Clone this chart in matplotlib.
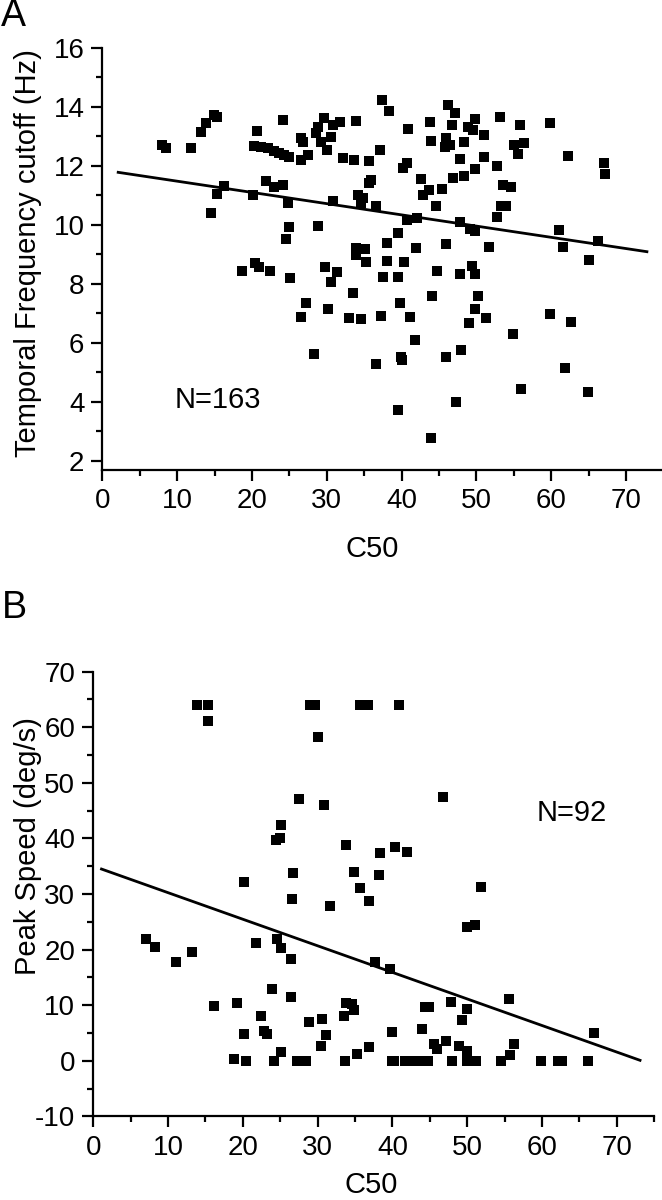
import matplotlib
matplotlib.use("Agg")
import matplotlib.pyplot as plt
from matplotlib.ticker import MultipleLocator

plt.rcParams['font.family'] = ['Liberation Sans', 'DejaVu Sans']
plt.rcParams['axes.unicode_minus'] = False

# panel A: C50 vs temporal frequency cutoff (Hz)
tf_c50 = [8.0, 8.5, 11.9, 13.2, 13.9, 14.9, 15.3, 24.1, 20.7, 20.3, 21.2, 22.1, 23.0, 23.6,
          24.3, 25.0, 26.5, 27.5, 26.5, 26.8, 28.6, 28.8, 29.6, 29.2, 30.5, 30.0, 30.8, 31.7,
          16.2, 15.3, 14.5, 20.1, 21.8, 22.9, 24.2, 24.8, 25.0, 24.5, 28.8, 30.8,
          18.7, 20.4, 20.9, 22.4, 25.1, 29.8, 31.3, 30.5, 27.2, 26.5, 30.1, 33.5, 33.0, 34.6, 28.3,
          37.4, 38.3, 33.9, 40.9, 43.8, 46.2, 47.2, 46.7, 48.9, 49.8, 49.6, 51.0, 53.2, 55.8, 59.8,
          43.9, 46.0, 45.8, 46.5, 48.4, 55.0, 56.3, 55.6, 62.2, 67.1, 67.2, 37.1, 32.2, 33.6, 35.6,
          40.7, 40.2, 47.8, 51.0, 49.8, 52.8, 48.3, 46.9, 45.4, 42.6, 43.6, 42.9, 35.9, 35.7, 53.6, 54.6,
          34.2, 34.8, 34.6, 36.6, 44.6, 53.3, 53.9, 52.7, 40.7, 42.0, 47.8, 49.2, 49.8, 61.1, 66.2, 39.5, 38.1,
          33.9, 35.1, 33.9, 35.3, 38.1, 40.3, 41.9, 46.0, 51.7, 61.6, 65.0, 37.5, 39.5, 44.7, 47.8, 49.4, 49.8,
          39.8, 44.1, 50.2, 49.8, 51.3, 49.0, 37.2, 41.1, 41.8, 36.6, 39.9, 40.1, 45.9, 47.9, 54.9, 59.8,
          62.7, 61.9, 55.9, 64.9, 39.5, 47.3, 43.9]
tf_cutoff = [12.69, 12.58, 12.58, 13.13, 13.43, 13.71, 13.63, 13.54, 13.18, 12.67, 12.64, 12.58, 12.5, 12.43,
             12.36, 12.28, 12.19, 12.36, 12.92, 12.79, 13.09, 13.32, 13.6, 12.81, 12.98, 12.53, 13.37, 13.48,
             11.32, 11.02, 10.38, 11.0, 11.48, 11.26, 11.34, 10.72, 9.93, 9.51, 9.96, 10.81,
             8.43, 8.7, 8.57, 8.43, 8.18, 8.57, 8.4, 8.06, 7.33, 6.85, 7.14, 7.69, 6.84, 6.79, 5.61,
             14.22, 13.85, 13.52, 13.24, 13.48, 14.05, 13.77, 13.37, 13.32, 13.57, 13.2, 13.03, 13.65, 13.37, 13.43,
             12.83, 12.92, 12.64, 12.69, 12.79, 12.69, 12.75, 12.39, 12.33, 12.1, 11.71, 12.53, 12.26, 12.19, 12.16,
             12.07, 11.9, 12.22, 12.28, 11.87, 11.98, 11.65, 11.59, 11.2, 11.53, 11.17, 11.0, 11.51, 11.4, 11.34, 11.28,
             11.0, 10.89, 10.72, 10.64, 10.64, 10.64, 10.63, 10.24, 10.15, 10.21, 10.1, 9.84, 9.79, 9.81, 9.45, 9.7, 9.38,
             9.19, 9.16, 8.97, 8.74, 8.77, 8.72, 9.19, 9.33, 9.25, 9.23, 8.8, 8.23, 8.23, 8.42, 8.34, 8.59, 8.34,
             7.33, 7.58, 7.59, 7.14, 6.82, 6.68, 6.9, 6.87, 6.08, 5.29, 5.52, 5.41, 5.5, 5.75, 6.28, 6.97,
             6.7, 5.15, 4.41, 4.31, 3.71, 4.0, 2.75]
tf_fit_x = [2.1, 72.8]
tf_fit_y = [11.77, 9.08]

# panel B: C50 vs peak speed (deg/s)
ps_c50 = [13.9, 15.4, 29.0, 29.6, 35.6, 36.7, 40.9,
          15.3, 30.1, 27.5, 30.8, 25.1, 24.4, 25.0, 33.8, 26.7, 34.8, 20.2, 35.7,
          46.7, 38.3, 40.3, 41.9, 38.2, 51.8,
          26.6, 31.7, 36.8, 49.9, 51.0, 7.1, 8.2, 11.0, 13.2, 21.8, 24.5, 25.1, 26.5,
          23.9, 26.5, 16.2, 19.2, 22.4, 20.1, 22.8, 23.2, 25.1, 18.8, 20.4, 24.2, 27.2, 28.5,
          28.8, 30.6, 31.1, 30.4, 33.7, 35.2, 36.8, 33.8, 34.6, 34.8, 33.5,
          37.6, 39.7, 40.0, 39.9, 40.2, 41.7, 43.0, 43.9, 44.8, 44.0, 44.3, 44.9, 47.8, 49.9, 49.3,
          45.5, 45.9, 47.2, 48.9, 49.9, 47.9, 49.9, 51.2, 54.5, 55.7, 56.3, 55.6,
          59.9, 62.1, 62.7, 66.2, 67.0]
ps_speed = [64.0, 64.0, 64.0, 64.0, 64.0, 64.0, 64.0,
            61.1, 58.3, 47.1, 46.0, 42.5, 39.7, 40.1, 38.8, 33.7, 33.9, 32.1, 31.0,
            47.4, 37.4, 38.5, 37.5, 33.4, 31.3,
            29.2, 27.9, 28.8, 24.0, 24.4, 21.9, 20.4, 17.7, 19.5, 21.2, 21.9, 20.3, 18.3,
            12.9, 11.4, 9.9, 10.4, 8.0, 4.8, 5.4, 4.8, 1.6, 0.3, 0.0, 0.0, 0.0, 0.0,
            7.0, 7.5, 4.7, 2.7, 0.0, 1.2, 2.5, 10.4, 10.2, 9.2, 8.0,
            17.8, 16.6, 5.2, 0.0, 0.0, 0.0, 0.0, 0.0, 0.0, 5.7, 9.7, 9.7, 10.5, 9.3, 7.3,
            3.1, 2.2, 3.6, 2.7, 1.8, 0.0, 0.0, 0.0, 0.0, 1.0, 3.1, 11.1,
            0.0, 0.0, 0.0, 0.0, 5.1]
ps_fit_x = [1.1, 73.1]
ps_fit_y = [34.5, 0.1]

fig = plt.figure(figsize=(6.62, 12), dpi=100)
axA = fig.add_axes([0.1548, 0.6083, 0.845, 0.3521])
axB = fig.add_axes([0.1409, 0.0696, 0.8474, 0.3707])


def style(ax):
    for s in ['top', 'right']:
        ax.spines[s].set_visible(False)
    for s in ['left', 'bottom']:
        ax.spines[s].set_linewidth(1.6)
    ax.tick_params(which='major', length=8, width=1.6, labelsize=20, pad=5)
    ax.tick_params(which='minor', length=4.5, width=1.6)
    ax.xaxis.set_major_locator(MultipleLocator(10))
    ax.xaxis.set_minor_locator(MultipleLocator(5))


axA.scatter(tf_c50, tf_cutoff, marker='s', s=62, color='black', linewidths=0, zorder=3)
axA.plot(tf_fit_x, tf_fit_y, color='black', lw=2)
axA.set_xlim(0, 74.8)
axA.set_ylim(1.68, 16)
style(axA)
axA.yaxis.set_major_locator(MultipleLocator(2))
axA.yaxis.set_minor_locator(MultipleLocator(1))
axA.set_ylabel('Temporal Frequency cutoff (Hz)', fontsize=21)
axA.yaxis.set_label_coords(-0.108, 0.514)
axA.set_xlabel('C50', fontsize=21)
axA.xaxis.set_label_coords(0.482, -0.154)
axA.text(15.4, 4.05, 'N=163', fontsize=21, ha='center', va='center')

axB.scatter(ps_c50, ps_speed, marker='s', s=62, color='black', linewidths=0, zorder=3)
axB.plot(ps_fit_x, ps_fit_y, color='black', lw=2)
axB.set_xlim(0, 75)
axB.set_ylim(-10, 70)
style(axB)
axB.yaxis.set_major_locator(MultipleLocator(10))
axB.yaxis.set_minor_locator(MultipleLocator(5))
axB.set_ylabel('Peak Speed (deg/s)', fontsize=21)
axB.yaxis.set_label_coords(-0.091, 0.608)
axB.set_xlabel('C50', fontsize=21)
axB.xaxis.set_label_coords(0.495, -0.123)
axB.text(64.0, 44.5, 'N=92', fontsize=21, ha='center', va='center')

fig.text(0.02, 0.987, 'A', fontsize=27, ha='center', va='center')
fig.text(0.022, 0.493, 'B', fontsize=27, ha='center', va='center')

fig.savefig('out.png', dpi=100)
